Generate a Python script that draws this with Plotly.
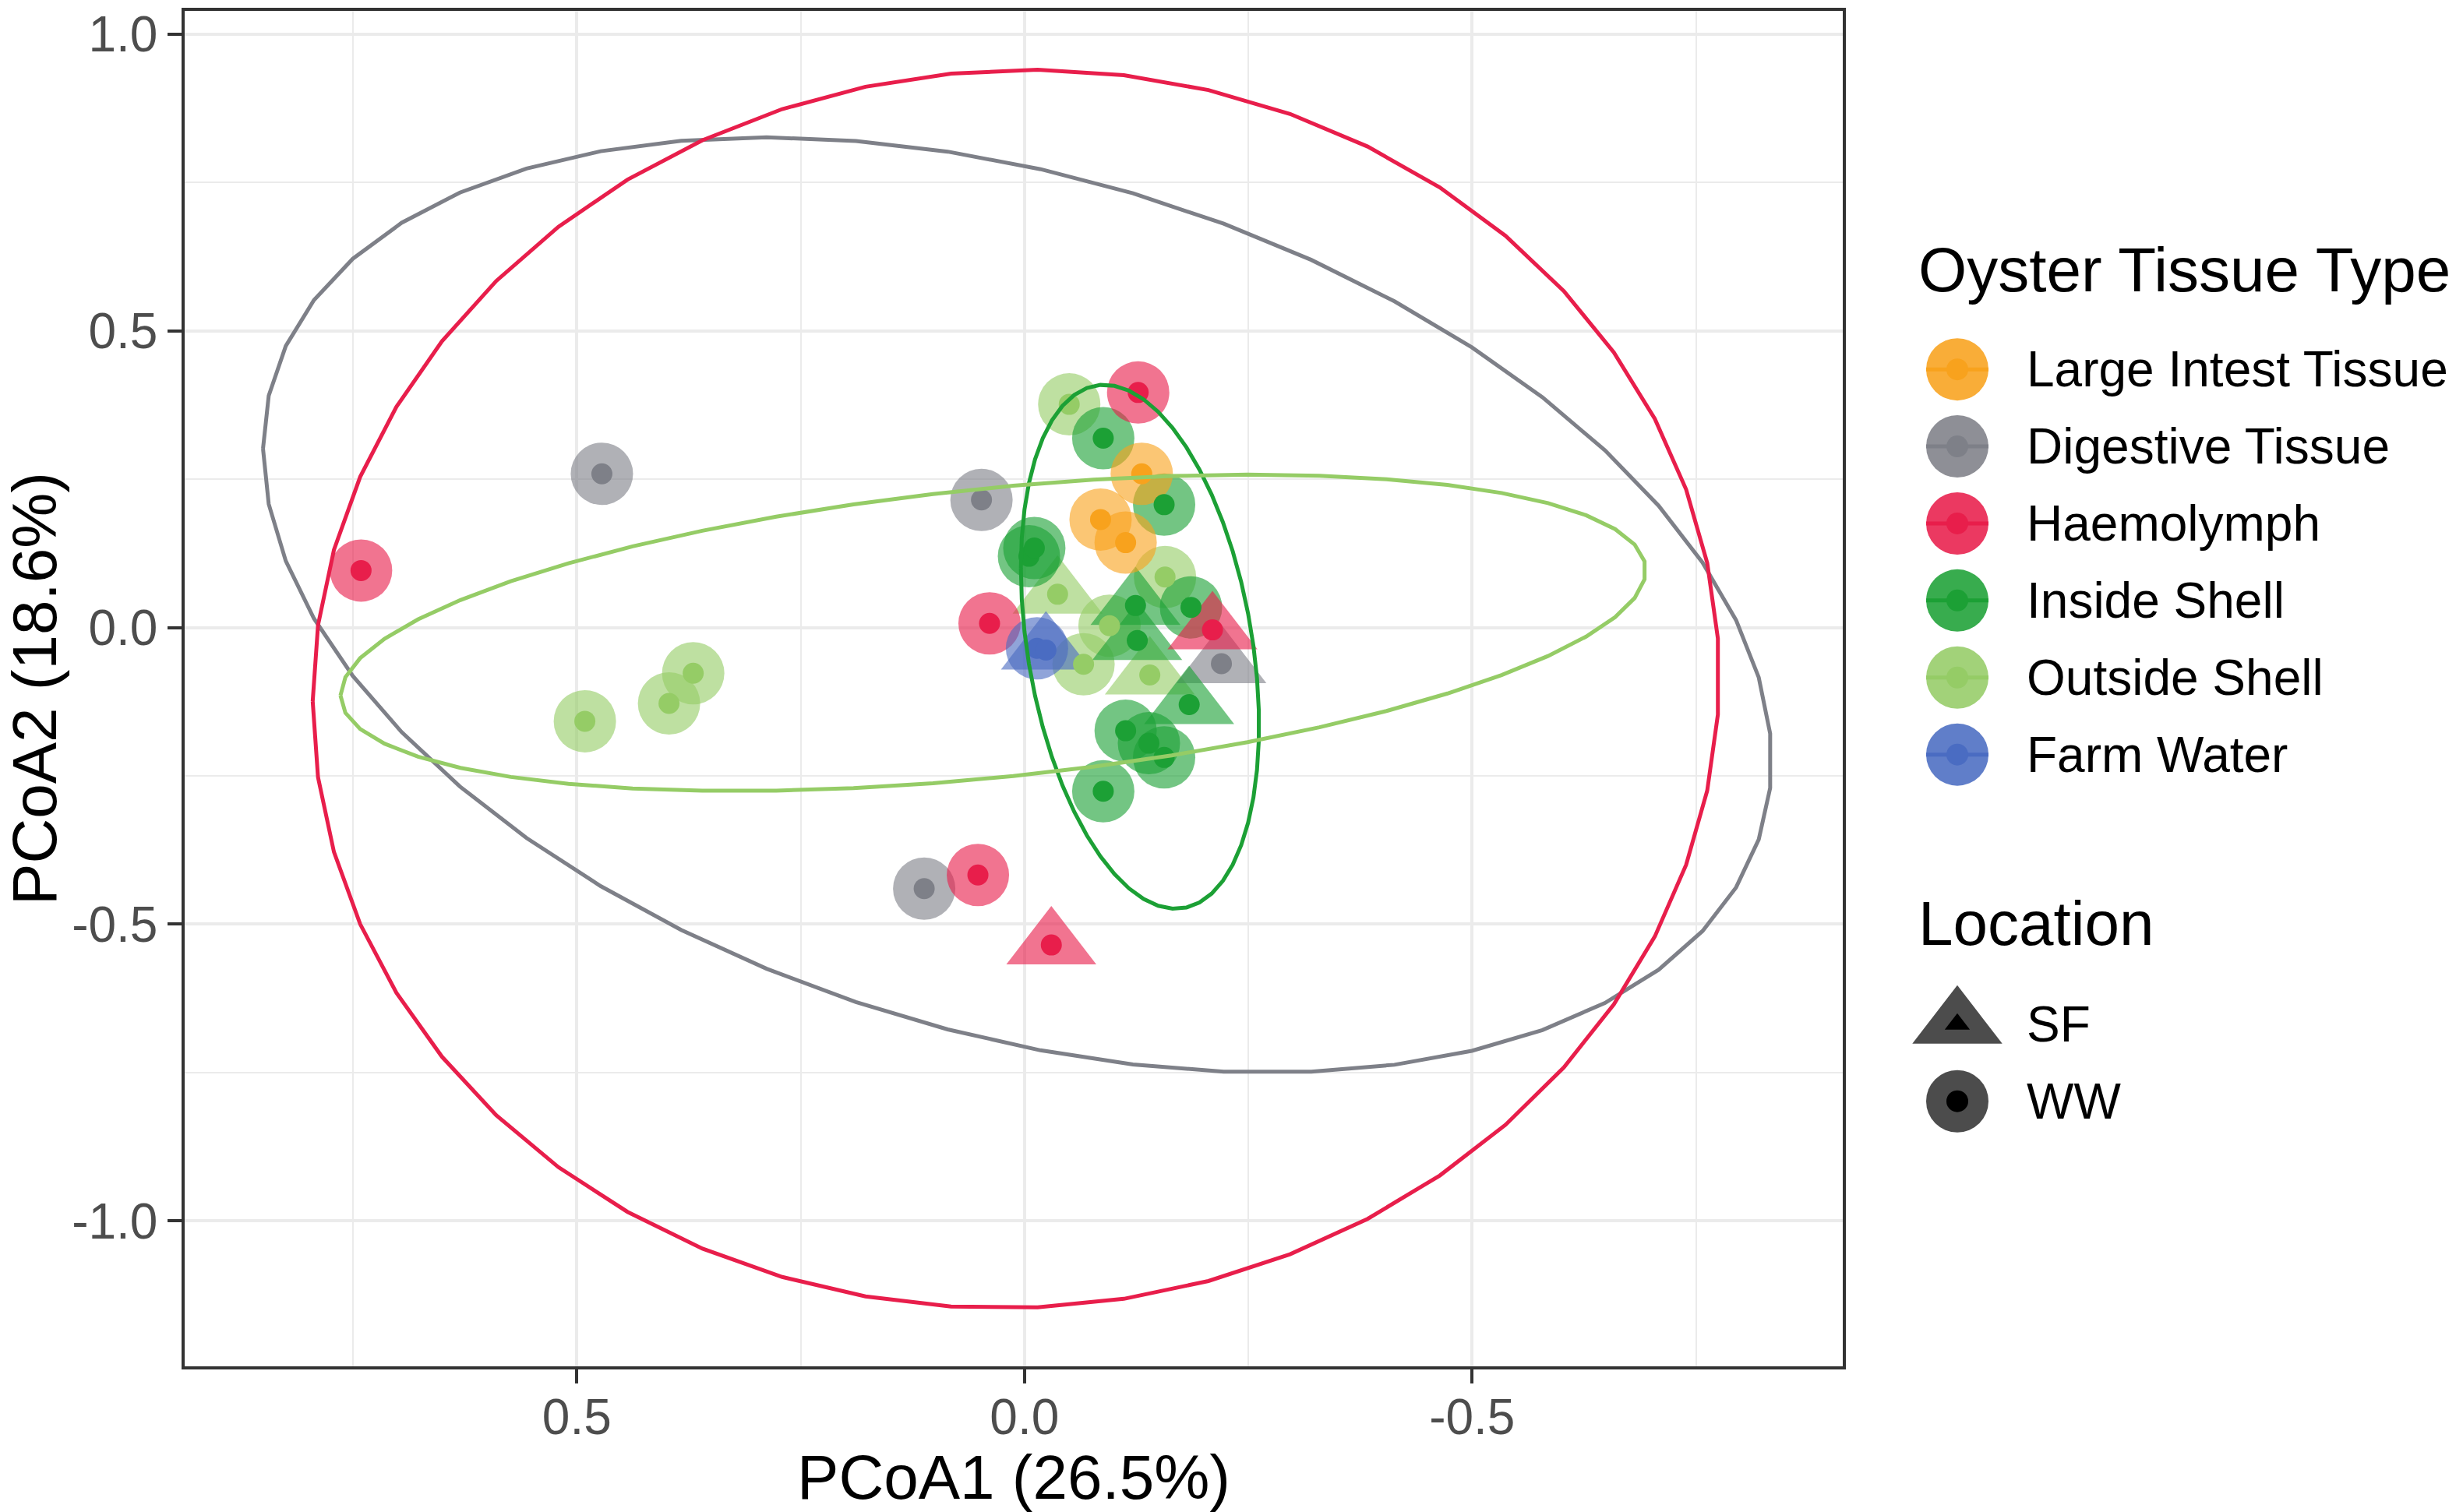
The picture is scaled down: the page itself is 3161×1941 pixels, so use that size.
import numpy as np
import plotly.graph_objects as go

## categories and colours
tissue_types = ["Large Intest Tissue", "Digestive Tissue", "Haemolymph",
                "Inside Shell", "Outside Shell", "Farm Water"]
tissue_colors = ["#F8A21D", "#7E8088", "#E81E4B", "#1CA035", "#95CC66", "#4A6CC2"]
locations = ["SF", "WW"]

## PCoA scores
pc1 = [-0.131, -0.085, -0.113,
       0.472, 0.048, 0.112, -0.220,
       0.741, -0.127, 0.039, 0.052, -0.210, -0.030,
       -0.088, -0.156, -0.005, -0.011, -0.186, -0.113, -0.139, -0.156, -0.088,
       -0.124, -0.126, -0.184,
       0.491, 0.397, 0.370, -0.050, -0.157, -0.066, -0.095, -0.037, -0.140,
       -0.014, -0.024]
pc2 = [0.259, 0.182, 0.143,
       0.259, 0.215, -0.440, -0.061,
       0.096, 0.396, 0.007, -0.417, -0.004, -0.535,
       0.319, 0.207, 0.120, 0.134, 0.034, -0.174, -0.195, -0.219, -0.276,
       0.037, -0.022, -0.130,
       -0.158, -0.128, -0.077, 0.376, 0.085, -0.062, 0.003, 0.056, -0.080,
       -0.035, -0.038]
tissue = (["Large Intest Tissue"] * 3 + ["Digestive Tissue"] * 4 + ["Haemolymph"] * 6
          + ["Inside Shell"] * 12 + ["Outside Shell"] * 9 + ["Farm Water"] * 2)
location = (["WW"] * 3
            + ["WW"] * 3 + ["SF"]
            + ["WW"] * 4 + ["SF"] * 2
            + ["WW"] * 9 + ["SF"] * 3
            + ["WW"] * 7 + ["SF"] * 2
            + ["WW", "SF"])

## stat_ellipse summaries (centre, spread, correlation) per tissue
ell_tissue = ["Digestive Tissue", "Haemolymph", "Inside Shell", "Outside Shell"]
ell_cx = [0.008, 0.0095, -0.129, 0.035]
ell_cy = [0.038, -0.1035, -0.0325, -0.009]
ell_sx = [0.8425, 0.7855, 0.133, 0.729]
ell_sy = [0.788, 1.0435, 0.4415, 0.2665]
ell_rho = [0.334, -0.02, 0.30, -0.396]

x_ticks = [0.5, 0.0, -0.5]
x_ticklabels = ["0.5", "0.0", "-0.5"]
y_ticks = [1.0, 0.5, 0.0, -0.5, -1.0]
y_ticklabels = ["1.0", "0.5", "0.0", "-0.5", "-1.0"]


def rgba(hex_col, a):
    h = hex_col.lstrip("#")
    return "rgba({},{},{},{})".format(int(h[0:2], 16), int(h[2:4], 16), int(h[4:6], 16), a)


FONT = "Liberation Sans, Arial, sans-serif"
ALPHA = 0.88
color_of = dict(zip(tissue_types, tissue_colors))
symbol_of = {"SF": "triangle-up", "WW": "circle"}
size_of = {"SF": 100, "WW": 80}
draw_order = ["Outside Shell", "Digestive Tissue", "Inside Shell",
              "Large Intest Tissue", "Haemolymph", "Farm Water"]

fig = go.Figure()

# big translucent points
for t in draw_order:
    idx = [i for i, v in enumerate(tissue) if v == t]
    fig.add_trace(go.Scatter(
        x=[pc1[i] for i in idx], y=[pc2[i] for i in idx], mode="markers",
        marker=dict(color=rgba(color_of[t], ALPHA),
                    symbol=[symbol_of[location[i]] for i in idx],
                    size=[size_of[location[i]] for i in idx], line=dict(width=0)),
        showlegend=False, hoverinfo="skip"))

# small solid centre points
for t in draw_order:
    idx = [i for i, v in enumerate(tissue) if v == t]
    fig.add_trace(go.Scatter(
        x=[pc1[i] for i in idx], y=[pc2[i] for i in idx], mode="markers",
        marker=dict(color=color_of[t], size=27, line=dict(width=0)),
        showlegend=False, hoverinfo="skip"))

# ellipses
theta = np.linspace(0, 2 * np.pi, 52)
for t, cx, cy, sx, sy, r in zip(ell_tissue, ell_cx, ell_cy, ell_sx, ell_sy, ell_rho):
    ex = cx + sx * np.cos(theta)
    ey = cy + sy * (r * np.cos(theta) + np.sqrt(1 - r ** 2) * np.sin(theta))
    fig.add_trace(go.Scatter(x=ex, y=ey, mode="lines",
                             line=dict(color=color_of[t], width=5),
                             showlegend=False, hoverinfo="skip"))

## hand-drawn legend on a pixel-scaled overlay axis
key_x = 2512
label_x = 2599
tissue_y0, step = 470, 99.3
loc_y0 = 1314

for i, t in enumerate(tissue_types):
    ky = tissue_y0 + i * step
    fig.add_trace(go.Scatter(x=[key_x], y=[ky], mode="markers", xaxis="x2", yaxis="y2",
                             marker=dict(color=rgba(color_of[t], ALPHA), size=80, line=dict(width=0)),
                             showlegend=False, hoverinfo="skip"))
    fig.add_trace(go.Scatter(x=[key_x - 40, key_x + 40], y=[ky, ky], mode="lines",
                             xaxis="x2", yaxis="y2", line=dict(color=color_of[t], width=5),
                             showlegend=False, hoverinfo="skip"))
    fig.add_trace(go.Scatter(x=[key_x], y=[ky], mode="markers", xaxis="x2", yaxis="y2",
                             marker=dict(color=color_of[t], size=28, line=dict(width=0)),
                             showlegend=False, hoverinfo="skip"))
    fig.add_annotation(x=label_x, y=ky, xref="x2", yref="y2", text=t, showarrow=False,
                       xanchor="left", yanchor="middle",
                       font=dict(family=FONT, size=64, color="black"))

for i, loc in enumerate(locations):
    ky = loc_y0 + i * step
    fig.add_trace(go.Scatter(x=[key_x], y=[ky], mode="markers", xaxis="x2", yaxis="y2",
                             marker=dict(color="rgba(0,0,0,0.7)", symbol=symbol_of[loc],
                                         size=size_of[loc], line=dict(width=0)),
                             showlegend=False, hoverinfo="skip"))
    fig.add_trace(go.Scatter(x=[key_x], y=[ky], mode="markers", xaxis="x2", yaxis="y2",
                             marker=dict(color="black", symbol=symbol_of[loc], size=28, line=dict(width=0)),
                             showlegend=False, hoverinfo="skip"))
    fig.add_annotation(x=label_x, y=ky, xref="x2", yref="y2", text=loc, showarrow=False,
                       xanchor="left", yanchor="middle",
                       font=dict(family=FONT, size=64, color="black"))

fig.add_annotation(x=2460, y=342, xref="x2", yref="y2", text="Oyster Tissue Type",
                   showarrow=False, xanchor="left", yanchor="middle",
                   font=dict(family=FONT, size=80, color="black"))
fig.add_annotation(x=2460, y=1184, xref="x2", yref="y2", text="Location",
                   showarrow=False, xanchor="left", yanchor="middle",
                   font=dict(family=FONT, size=80, color="black"))

W, H = 3161, 1941
ml, mr, mt, mb = 237, 10, 8, 186
paper_w = W - ml - mr
x_dom_end = (2365 - ml) / paper_w
leg_dom_start = 0.74

axis_common = dict(
    showline=True, linecolor="#333333", linewidth=3.5, mirror=True,
    ticks="outside", ticklen=18, tickwidth=4, tickcolor="#333333",
    showgrid=True, gridcolor="#EBEBEB", gridwidth=3.5, zeroline=False,
    tickfont=dict(family=FONT, size=64, color="#4D4D4D"),
)

fig.update_layout(
    width=W, height=H,
    margin=dict(l=ml, r=mr, t=mt, b=mb),
    plot_bgcolor="white", paper_bgcolor="white",
    showlegend=False,
    xaxis=dict(axis_common, domain=[0, x_dom_end], range=[0.938, -0.914],
               tickvals=x_ticks, ticktext=x_ticklabels, ticklabelstandoff=-12,
               minor=dict(tickvals=[0.75, 0.25, -0.25, -0.75], showgrid=True,
                          gridcolor="#EBEBEB", gridwidth=2, ticks=""),
               title=dict(text="PCoA1 (26.5%)", standoff=22,
                          font=dict(family=FONT, size=80, color="black"))),
    yaxis=dict(axis_common, domain=[0, 1], range=[-1.245, 1.039],
               tickvals=y_ticks, ticktext=y_ticklabels,
               minor=dict(tickvals=[0.75, 0.25, -0.25, -0.75], showgrid=True,
                          gridcolor="#EBEBEB", gridwidth=2, ticks=""),
               title=dict(text="PCoA2 (18.6%)", standoff=23,
                          font=dict(family=FONT, size=80, color="black"))),
    xaxis2=dict(domain=[leg_dom_start, 1], range=[ml + leg_dom_start * paper_w, W - mr],
                visible=False, fixedrange=True, anchor="y2"),
    yaxis2=dict(domain=[0, 1], range=[H - mb, mt], visible=False, fixedrange=True, anchor="x2"),
)

# drop the browser's default body margin so the figure sits at the page corner
fig.write_html("out.html", config={"displayModeBar": False},
               post_script="document.body.style.margin='0';document.body.style.overflow='hidden';")
